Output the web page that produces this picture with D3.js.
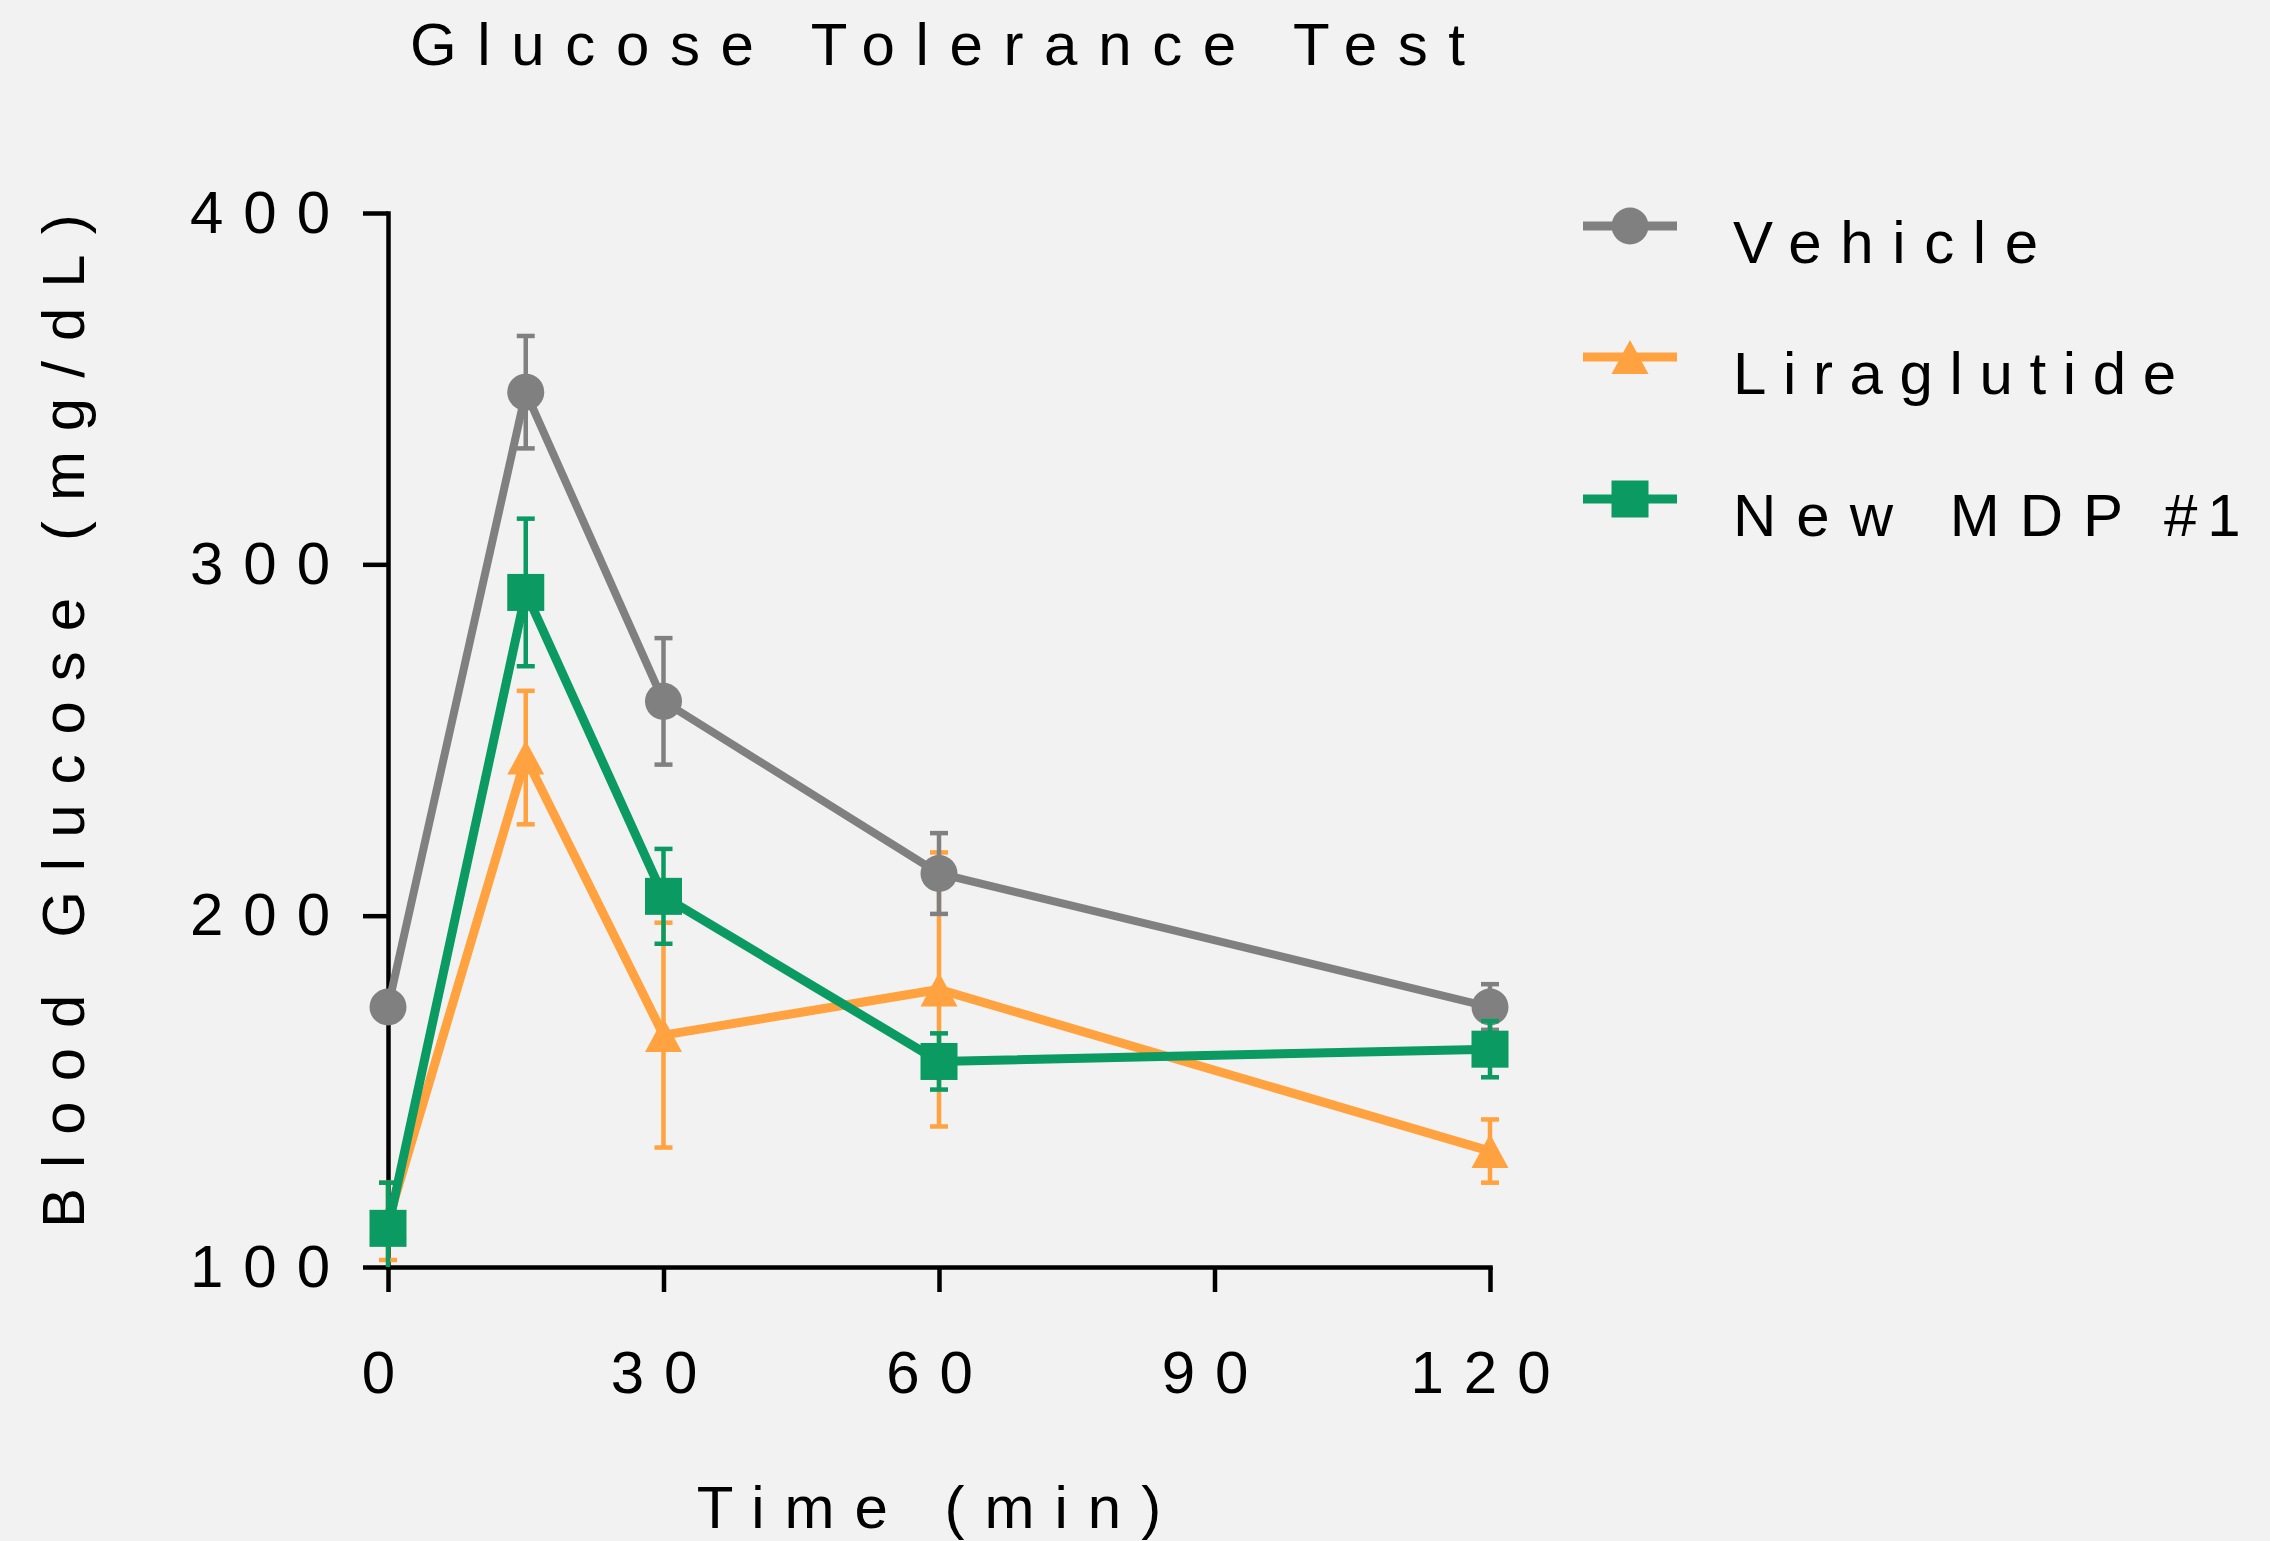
<!DOCTYPE html>
<html>
<head>
<meta charset="utf-8">
<script src="https://cdn.jsdelivr.net/npm/d3@7"></script>
<style>
  body { margin: 0; background: #f2f2f2; }
  svg { display: block; font-family: "Liberation Sans", Arial, sans-serif; }
  .axis path, .axis line { stroke: #000; stroke-width: 4.5; }
  .axis text { font-size: 60px; letter-spacing: 20px; fill: #000; font-family: "Liberation Sans", Arial, sans-serif; }
</style>
</head>
<body>
<div id="container"></div>
<script>
// ---- data ----
var times = [0, 15, 30, 60, 120];
var seriesNames = ['Vehicle', 'Liraglutide', 'New MDP #1'];
var vehicleMean = [174, 349, 261, 212, 174];
var vehicleSem  = [4, 16, 18, 11.5, 6.5];
var liraMean = [113, 245, 166, 179, 133];
var liraSem  = [11, 19, 32, 39, 9];
var mdpMean = [111, 292, 205.5, 158.5, 162];
var mdpSem  = [13, 21, 13.5, 8, 8];
var xTicks = [0, 30, 60, 90, 120];
var yTicks = [100, 200, 300, 400];

var width = 2270, height = 1541;
var margin = { left: 388, right: 780, top: 213, bottom: 274 };

var svg = d3.select('#container').append('svg').attr('width', width).attr('height', height);
svg.append('rect').attr('width', width).attr('height', height).attr('fill', '#f2f2f2');

var x = d3.scaleLinear().domain([0, 120]).range([margin.left, width - margin.right]);
var y = d3.scaleLinear().domain([100, 400]).range([height - margin.bottom, margin.top]);

var series = [
  { name: seriesNames[1], mean: liraMean, sem: liraSem, color: '#ffa23f', shape: 'triangle', lw: 9 },
  { name: seriesNames[0], mean: vehicleMean, sem: vehicleSem, color: '#808080', shape: 'circle', lw: 8 },
  { name: seriesNames[2], mean: mdpMean, sem: mdpSem, color: '#0a9a62', shape: 'square', lw: 9 }
];

function marker(g, shape, color){
  if(shape == 'circle') g.append('circle').attr('r', 18.5).attr('fill', color);
  else if(shape == 'square') g.append('rect').attr('x', -18.5).attr('y', -18.5).attr('width', 37).attr('height', 37).attr('fill', color);
  else g.append('path').attr('d', 'M0,-17L18.5,17L-18.5,17Z').attr('fill', color);
}

// ---- axes ----
var xAxis = d3.axisBottom(x).tickValues(xTicks).tickSizeInner(25).tickSizeOuter(0).tickPadding(58);
var yAxis = d3.axisLeft(y).tickValues(yTicks).tickSizeInner(25).tickSizeOuter(0).tickPadding(13);

svg.append('g').attr('class', 'axis').attr('transform', 'translate(0,' + y(100) + ')').call(xAxis)
  .select('.domain').attr('stroke-linecap', 'square');
svg.append('g').attr('class', 'axis').attr('transform', 'translate(' + x(0) + ',0)').call(yAxis)
  .select('.domain').attr('stroke-linecap', 'square');

// ---- series ----
var line = d3.line().x((d, i) => x(times[i])).y(d => y(d));

series.forEach(s => {
  var g = svg.append('g');
  g.append('path').datum(s.mean).attr('d', line)
    .attr('fill', 'none').attr('stroke', s.color).attr('stroke-width', s.lw).attr('stroke-linejoin', 'miter');

  times.forEach((t, i) => {
    var hi = s.mean[i] + s.sem[i], lo = Math.max(100, s.mean[i] - s.sem[i]);
    var cx = x(t);
    var eb = g.append('g').attr('stroke', s.color).attr('stroke-width', 4.5);
    eb.append('line').attr('x1', cx).attr('x2', cx).attr('y1', y(hi)).attr('y2', y(lo));
    eb.append('line').attr('x1', cx - 9).attr('x2', cx + 9).attr('y1', y(hi)).attr('y2', y(hi));
    if(lo > 100) eb.append('line').attr('x1', cx - 9).attr('x2', cx + 9).attr('y1', y(lo)).attr('y2', y(lo));
  });

  times.forEach((t, i) => {
    marker(g.append('g').attr('transform', 'translate(' + x(t) + ',' + y(s.mean[i]) + ')'), s.shape, s.color);
  });
});

// ---- titles ----
svg.append('text').attr('x', 410).attr('y', 65)
  .attr('textLength', 1055).attr('lengthAdjust', 'spacing')
  .style('font-size', '60px').text('Glucose Tolerance Test');

svg.append('text').attr('x', (x(0) + x(120)) / 2).attr('y', 1528).attr('text-anchor', 'middle')
  .style('font-size', '60px').style('letter-spacing', '20px').text('Time (min)');

svg.append('text').attr('transform', 'translate(84,1228) rotate(-90)')
  .style('font-size', '60px').style('letter-spacing', '20px').text('Blood Glucose (mg/dL)');

// ---- legend ----
var legendY = [226, 357, 499];
var legendLen = [305, 443, 390];
var legendOrder = [series[1], series[0], series[2]];
legendOrder.forEach((s, i) => {
  var lg = svg.append('g').attr('transform', 'translate(1630,' + legendY[i] + ')');
  lg.append('line').attr('x1', -47).attr('x2', 47).attr('stroke', s.color).attr('stroke-width', 9);
  marker(lg, s.shape, s.color);
  var parts = s.name.split(' #');
  var t = lg.append('text').attr('x', 103).attr('y', 37).style('font-size', '60px');
  t.append('tspan').attr('textLength', legendLen[i]).attr('lengthAdjust', 'spacing').text(parts[0]);
  if(parts.length > 1)
    t.append('tspan').attr('x', 534).style('letter-spacing', '10px').text('#' + parts[1]);
});
</script>
</body>
</html>
